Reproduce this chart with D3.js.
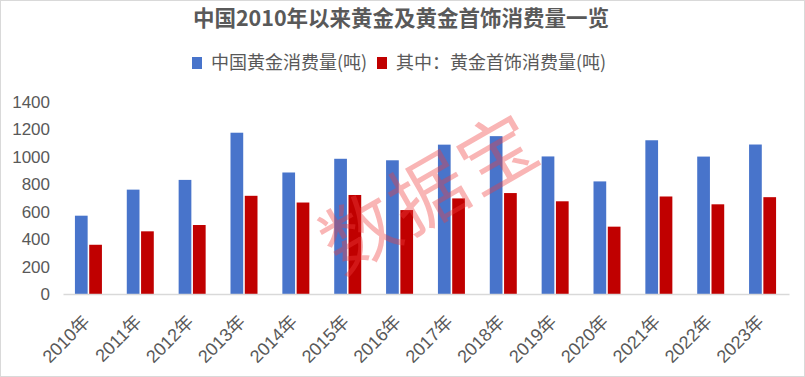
<!DOCTYPE html>
<html>
<head>
<meta charset="utf-8">
<script src="https://cdn.jsdelivr.net/npm/d3@7"></script>
<style>
  body { margin: 0; background: #fff; }
  svg { display: block; }
</style>
</head>
<body>
<div class="chart"></div>
<script>
// data
const years = ["2010年","2011年","2012年","2013年","2014年","2015年","2016年","2017年","2018年","2019年","2020年","2021年","2022年","2023年"];
const totalGold = [571, 761, 832, 1176, 886, 986, 975, 1089, 1151, 1003, 821, 1121, 1002, 1090];
const jewelry = [359, 457, 503, 716, 667, 722, 612, 697, 736, 676, 491, 711, 654, 706];
const seriesNames = ["中国黄金消费量(吨)", "其中：黄金首饰消费量(吨)"];
const colors = ["#4874cb", "#c00000"];
const yTicks = [0, 200, 400, 600, 800, 1000, 1200, 1400];

const W = 805, H = 377;
const margin = {top: 102, right: 16, bottom: 83, left: 63},
    width = W - margin.left - margin.right,
    height = H - margin.top - margin.bottom;

const svg = d3.select(".chart")
  .append("svg")
    .attr("width", W)
    .attr("height", H);

// frame
svg.append("rect")
  .attr("x", 0.5).attr("y", 0.5)
  .attr("width", W - 1).attr("height", H - 1)
  .attr("fill", "#fff").attr("stroke", "#d9d9d9");

// title
svg.append("text")
  .attr("x", 401).attr("y", 26)
  .attr("text-anchor", "middle")
  .attr("font-family", "Noto Sans CJK SC")
  .attr("font-weight", "bold")
  .attr("font-size", "21.5px")
  .attr("fill", "#595959")
  .text("中国2010年以来黄金及黄金首饰消费量一览");

const g = svg.append("g")
  .attr("transform", `translate(${margin.left},${margin.top})`);

const x = d3.scaleBand()
  .domain(years)
  .range([0, width]);

const x1 = d3.scaleBand()
  .domain([0, 1])
  .range([0, 27])
  .paddingInner(0.11);

const y = d3.scaleLinear()
  .domain([0, 1400])
  .range([height, 0]);

// y axis labels
const yAxis = g.append("g")
  .call(d3.axisLeft(y).tickValues(yTicks).tickFormat(d3.format("d")).tickSize(0).tickPadding(13));
yAxis.select(".domain").remove();
yAxis.selectAll("text")
  .attr("font-family", "Liberation Sans, Arial, sans-serif")
  .attr("font-size", "17px")
  .attr("fill", "#595959");

// bars
const rows = years.map((yr, i) => ({year: yr, vals: [totalGold[i], jewelry[i]]}));
const groups = g.selectAll(".grp")
  .data(rows)
  .join("g")
    .attr("class", "grp")
    .attr("transform", d => `translate(${x(d.year) + x.bandwidth() / 2 - 14},0)`);

groups.selectAll("rect")
  .data(d => d.vals.map((v, k) => ({v, k})))
  .join("rect")
    .attr("x", d => x1(d.k))
    .attr("y", d => y(d.v))
    .attr("width", x1.bandwidth())
    .attr("height", d => height - y(d.v))
    .attr("fill", d => colors[d.k]);

// x axis
const xAxis = g.append("g")
  .attr("transform", `translate(0,${height})`)
  .call(d3.axisBottom(x).tickSize(0).tickPadding(0));
xAxis.select(".domain")
  .attr("stroke", "#d9d9d9")
  .attr("stroke-width", 1.5);
xAxis.selectAll("text")
  .attr("font-family", "Liberation Sans, Noto Sans CJK SC, sans-serif")
  .attr("font-size", "18px")
  .attr("fill", "#595959")
  .attr("dy", "0")
  .attr("transform", "translate(2,29) rotate(-45)")
  .style("text-anchor", "end");

// legend
const legend = svg.append("g").attr("transform", "translate(192,63)");
const legendX = [0, 185];
seriesNames.forEach((name, i) => {
  legend.append("rect")
    .attr("x", legendX[i]).attr("y", -6)
    .attr("width", 10).attr("height", 12)
    .attr("fill", colors[i]);
  legend.append("text")
    .attr("x", legendX[i] + 19).attr("y", 6)
    .attr("font-family", "Noto Sans CJK SC")
    .attr("font-size", "18px")
    .attr("fill", "#595959")
    .text(name);
});

// watermark
svg.append("text")
  .attr("transform", "translate(427,188) rotate(-30)")
  .attr("text-anchor", "middle")
  .attr("dominant-baseline", "central")
  .attr("font-family", "Noto Sans CJK SC")
  .attr("font-size", "76px")
  .attr("letter-spacing", "3px")
  .attr("fill", "rgba(238,60,60,0.38)")
  .text("数据宝");
</script>
</body>
</html>
